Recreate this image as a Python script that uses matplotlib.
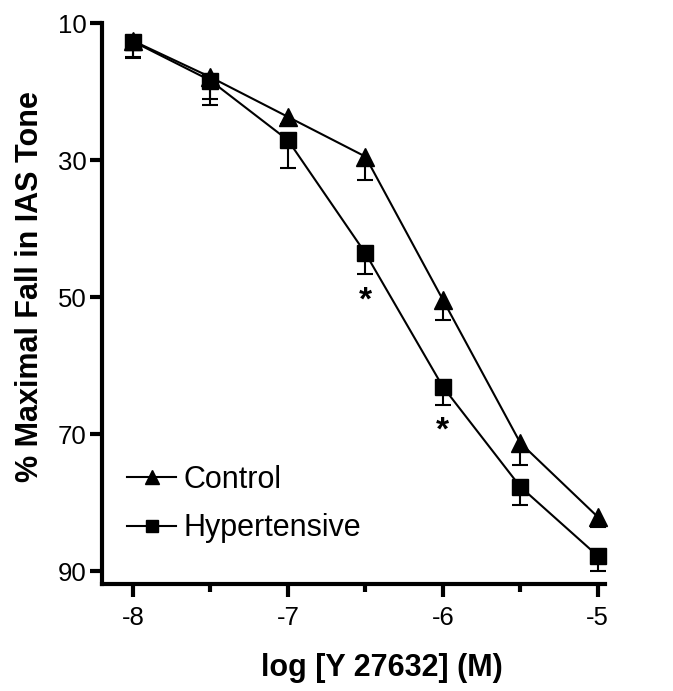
import numpy as np
import matplotlib.pyplot as plt

plt.rcParams['font.family'] = ['Liberation Sans', 'DejaVu Sans']

# log concentration of Y 27632
dose = [-8, -7.5, -7, -6.5, -6, -5.5, -5]

control = [12.6, 17.9, 23.7, 29.5, 50.4, 71.3, 82.1]
control_err = [2.5, 3.2, 1.0, 3.4, 3.0, 3.2, 1.5]

hyper = [12.7, 18.4, 27.1, 43.6, 63.1, 77.7, 87.8]
hyper_err = [2.2, 3.6, 4.1, 3.0, 2.7, 2.6, 2.2]

# significance marks (x, y)
star_x = [-6.5, -6]
star_y = [50.6, 69.6]

fig = plt.figure(figsize=(6.73, 6.91), dpi=100)
ax = fig.add_axes([0.1516, 0.1548, 0.747, 0.8119])

lw = 1.5
series = [(control, control_err, '^', 12.5, 'Control'),
          (hyper, hyper_err, 's', 11, 'Hypertensive')]
for y, err, mk, ms, lab in series:
    y = np.array(y)
    top = y + np.array(err)
    # one sided SEM bars
    ax.vlines(dose, y, top, color='black', lw=lw, clip_on=False)
    ax.plot(dose, top, ls='none', marker='_', ms=11.5, mew=lw, color='black',
            clip_on=False)
    ax.plot(dose, y, '-', marker=mk, ms=ms, color='black', lw=lw,
            clip_on=False, label=lab, zorder=3)

for x, y in zip(star_x, star_y):
    ax.text(x, y, '*', ha='center', va='center', fontsize=24, fontweight='bold')

ax.set_xlim(-8.2, -4.955)
ax.set_ylim(91.9, 10)
ax.set_xticks([-8, -7, -6, -5])
ax.set_xticklabels(['-8', '-7', '-6', '-5'])
ax.set_xticks([-7.5, -6.5, -5.5], minor=True)
ax.set_yticks([10, 30, 50, 70, 90])

for side in ['top', 'right']:
    ax.spines[side].set_visible(False)
for side in ['left', 'bottom']:
    ax.spines[side].set_linewidth(3)

ax.tick_params(which='major', length=9, width=3, labelsize=18.5)
ax.tick_params(axis='x', which='major', pad=7)
ax.tick_params(axis='y', which='major', pad=2)
ax.tick_params(which='minor', length=6, width=3)

ax.set_xlabel('log [Y 27632] (M)', fontsize=22, fontweight='bold')
ax.xaxis.set_label_coords(0.557, -0.123)
ax.set_ylabel('% Maximal Fall in IAS Tone', fontsize=22, fontweight='bold')
ax.yaxis.set_label_coords(-0.113, 0.531)

ax.legend(loc='upper left', bbox_to_anchor=(0.05, 0.213), frameon=False,
          fontsize=22, handlelength=1.6, handletextpad=0.25, labelspacing=0.62,
          borderpad=0, borderaxespad=0, markerscale=0.85)

fig.savefig('out.png', dpi=100)
